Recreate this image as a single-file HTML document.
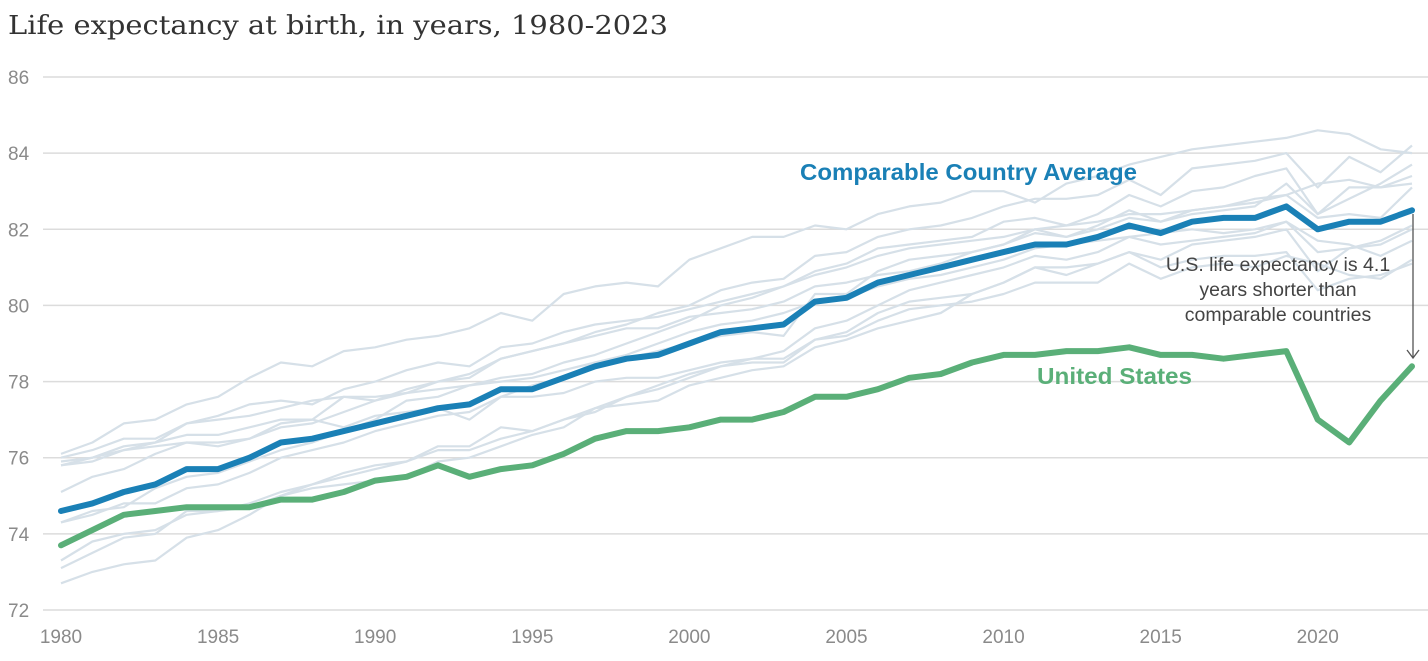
<!DOCTYPE html>
<html><head><meta charset="utf-8"><style>
body{margin:0;background:#fff;}
svg{display:block;font-family:"Liberation Sans",sans-serif;}
</style></head><body>
<svg id="chart" width="1428" height="661" viewBox="0 0 1428 661">
<text x="8" y="34" font-family="DejaVu Serif, serif" font-size="26" fill="#333" textLength="660" lengthAdjust="spacingAndGlyphs">Life expectancy at birth, in years, 1980-2023</text>
<g id="grid"></g><g id="gray"></g><g id="main"></g>
<text x="800" y="180" font-size="23.5" font-weight="bold" fill="#1a80b6" textLength="337" lengthAdjust="spacingAndGlyphs">Comparable Country Average</text>
<text x="1037" y="384" font-size="23.5" font-weight="bold" fill="#5aaf78" textLength="155" lengthAdjust="spacingAndGlyphs">United States</text>
<g font-size="19.5" fill="#444" text-anchor="middle">
<text x="1278" y="271">U.S. life expectancy is 4.1</text>
<text x="1278" y="296">years shorter than</text>
<text x="1278" y="321">comparable countries</text>
</g>
<g stroke="#555" stroke-width="1.3" fill="none">
<line x1="1413" y1="214" x2="1413" y2="358"/><polyline points="1407,350 1413,358 1419,350"/>
</g>
</svg>
<script>
const years=[];for(let y=1980;y<=2023;y++)years.push(y);
const yTicks=[72,74,76,78,80,82,84,86];
const xTicks=[1980,1985,1990,1995,2000,2005,2010,2015,2020];
const avg=[74.6,74.8,75.1,75.3,75.7,75.7,76.0,76.4,76.5,76.7,76.9,77.1,77.3,77.4,77.8,77.8,78.1,78.4,78.6,78.7,79.0,79.3,79.4,79.5,80.1,80.2,80.6,80.8,81.0,81.2,81.4,81.6,81.6,81.8,82.1,81.9,82.2,82.3,82.3,82.6,82.0,82.2,82.2,82.5];
const us=[73.7,74.1,74.5,74.6,74.7,74.7,74.7,74.9,74.9,75.1,75.4,75.5,75.8,75.5,75.7,75.8,76.1,76.5,76.7,76.7,76.8,77.0,77.0,77.2,77.6,77.6,77.8,78.1,78.2,78.5,78.7,78.7,78.8,78.8,78.9,78.7,78.7,78.6,78.7,78.8,77.0,76.4,77.5,78.4];
const cA=[76.1,76.4,76.9,77.0,77.4,77.6,78.1,78.5,78.4,78.8,78.9,79.1,79.2,79.4,79.8,79.6,80.3,80.5,80.6,80.5,81.2,81.5,81.8,81.8,82.1,82.0,82.4,82.6,82.7,83.0,83.0,82.7,83.2,83.4,83.7,83.9,84.1,84.2,84.3,84.4,84.6,84.5,84.1,84.0];
const cB=[75.8,76.0,76.3,76.4,76.9,77.0,77.1,77.3,77.5,77.6,77.5,77.8,78.0,78.2,78.6,78.8,79.0,79.3,79.5,79.8,80.0,80.4,80.6,80.7,81.3,81.4,81.8,82.0,82.1,82.3,82.6,82.8,82.8,82.9,83.3,82.9,83.6,83.7,83.8,84.0,83.1,83.9,83.5,84.2];
const cC=[74.3,74.6,74.7,75.2,75.5,75.6,75.9,76.2,76.4,76.7,77.0,77.5,77.6,77.9,78.1,78.2,78.5,78.7,79.0,79.3,79.6,80.0,80.2,80.5,80.8,81.0,81.3,81.5,81.6,81.7,81.8,82.0,82.1,82.2,82.4,82.4,82.5,82.6,82.8,82.9,83.2,83.3,83.1,83.4];
const cD=[75.8,75.9,76.2,76.4,76.6,76.6,76.8,77.0,77.0,77.6,77.6,77.7,78.0,78.1,78.6,78.8,79.0,79.2,79.4,79.4,79.7,79.8,79.9,80.1,80.5,80.6,80.8,80.9,81.1,81.4,81.6,81.9,81.8,82.0,82.3,82.2,82.4,82.5,82.6,83.2,82.4,83.1,83.1,83.2];
const cE=[73.3,73.8,74.0,74.1,74.5,74.6,74.8,75.1,75.3,75.5,75.7,75.9,76.3,76.3,76.8,76.7,77.0,77.3,77.4,77.5,77.9,78.1,78.3,78.4,78.9,79.1,79.4,79.6,79.8,80.3,80.6,81.0,81.0,81.1,81.4,81.0,81.2,81.3,81.3,81.4,80.4,80.7,80.8,81.1];
const cF=[72.7,73.0,73.2,73.3,73.9,74.1,74.5,75.0,75.2,75.3,75.4,75.5,75.9,76.0,76.3,76.6,76.8,77.3,77.6,77.9,78.2,78.4,78.5,78.5,79.1,79.2,79.6,79.9,80.0,80.1,80.3,80.6,80.6,80.6,81.1,80.7,81.0,81.1,81.0,81.3,81.1,80.8,80.7,81.2];
const cG=[74.3,74.5,74.8,74.8,75.2,75.3,75.6,76.0,76.2,76.4,76.7,76.9,77.1,77.2,77.6,77.9,78.1,78.5,78.6,78.8,79.0,79.2,79.3,79.2,80.3,80.3,80.9,81.2,81.3,81.4,81.6,82.0,81.8,82.1,82.5,82.2,82.5,82.6,82.7,82.9,82.3,82.4,82.3,83.1];
const cH=[75.9,76.0,76.2,76.3,76.4,76.3,76.5,76.9,77.0,76.8,77.1,77.2,77.3,77.0,77.6,77.6,77.7,78.0,78.1,78.1,78.3,78.5,78.6,78.8,79.4,79.6,80.0,80.4,80.6,80.8,81.0,81.3,81.2,81.4,81.8,81.6,81.7,81.8,81.9,82.2,81.4,81.5,81.7,82.1];
const cI=[75.1,75.5,75.7,76.1,76.4,76.4,76.5,76.8,76.9,77.2,77.5,77.7,77.8,77.9,78.0,78.1,78.3,78.5,78.7,79.0,79.3,79.5,79.6,79.8,80.1,80.2,80.5,80.7,80.8,81.0,81.2,81.5,81.6,81.7,81.8,81.9,82.0,81.9,82.0,82.2,81.7,81.6,81.3,81.7];
const cJ=[73.1,73.5,73.9,74.0,74.6,74.6,74.7,75.0,75.3,75.6,75.8,75.9,76.2,76.2,76.5,76.7,77.0,77.2,77.6,77.8,78.1,78.4,78.6,78.6,79.1,79.3,79.8,80.1,80.2,80.3,80.6,81.0,80.8,81.1,81.4,81.2,81.6,81.7,81.8,82.0,80.9,81.5,81.6,82.0];
const cK=[76.0,76.2,76.5,76.5,76.9,77.1,77.4,77.5,77.4,77.8,78.0,78.3,78.5,78.4,78.9,79.0,79.3,79.5,79.6,79.7,79.9,80.1,80.3,80.5,80.9,81.1,81.5,81.6,81.7,81.8,82.2,82.3,82.1,82.4,82.9,82.6,83.0,83.1,83.4,83.6,82.4,82.8,83.2,83.7];
const countries=[cA,cB,cC,cD,cE,cF,cG,cH,cI,cJ,cK];

const NS="http://www.w3.org/2000/svg";
const x=v=>61+(v-1980)*(1412-61)/43;
const y=v=>610-(v-72)*(610-77)/14;
function mk(tag,attrs,parent){const e=document.createElementNS(NS,tag);for(const k in attrs)e.setAttribute(k,attrs[k]);parent.appendChild(e);return e;}
const grid=document.getElementById('grid');
yTicks.forEach(t=>{
  const l=mk('line',{x1:43,x2:1428,y1:y(t),y2:y(t),stroke:'#dcdcdc','stroke-width':1.5},grid);
  
  
  const tx=mk('text',{x:8,y:y(t)+7,'font-size':19,fill:'#8a8a8a'},grid);
  tx.textContent=t;
  
  
});
xTicks.forEach(t=>{
  const tx=mk('text',{x:x(t),y:643,'font-size':19,fill:'#8a8a8a','text-anchor':'middle'},grid);
  tx.textContent=t;
  
  
});
const pts=arr=>arr.map((v,i)=>x(years[i]).toFixed(1)+','+y(v).toFixed(1)).join(' ');
const gray=document.getElementById('gray');
countries.forEach(c=>{
  const p=mk('polyline',{points:pts(c),fill:'none',stroke:'#d6e0e8','stroke-width':2.2,'stroke-linejoin':'round'},gray);
  
  
});
const main=document.getElementById('main');
const pa=mk('polyline',{points:pts(avg),fill:'none',stroke:'#1a80b6','stroke-width':6,'stroke-linejoin':'round','stroke-linecap':'round'},main);


const pu=mk('polyline',{points:pts(us),fill:'none',stroke:'#5aaf78','stroke-width':6,'stroke-linejoin':'round','stroke-linecap':'round'},main);


</script>
</body></html>
